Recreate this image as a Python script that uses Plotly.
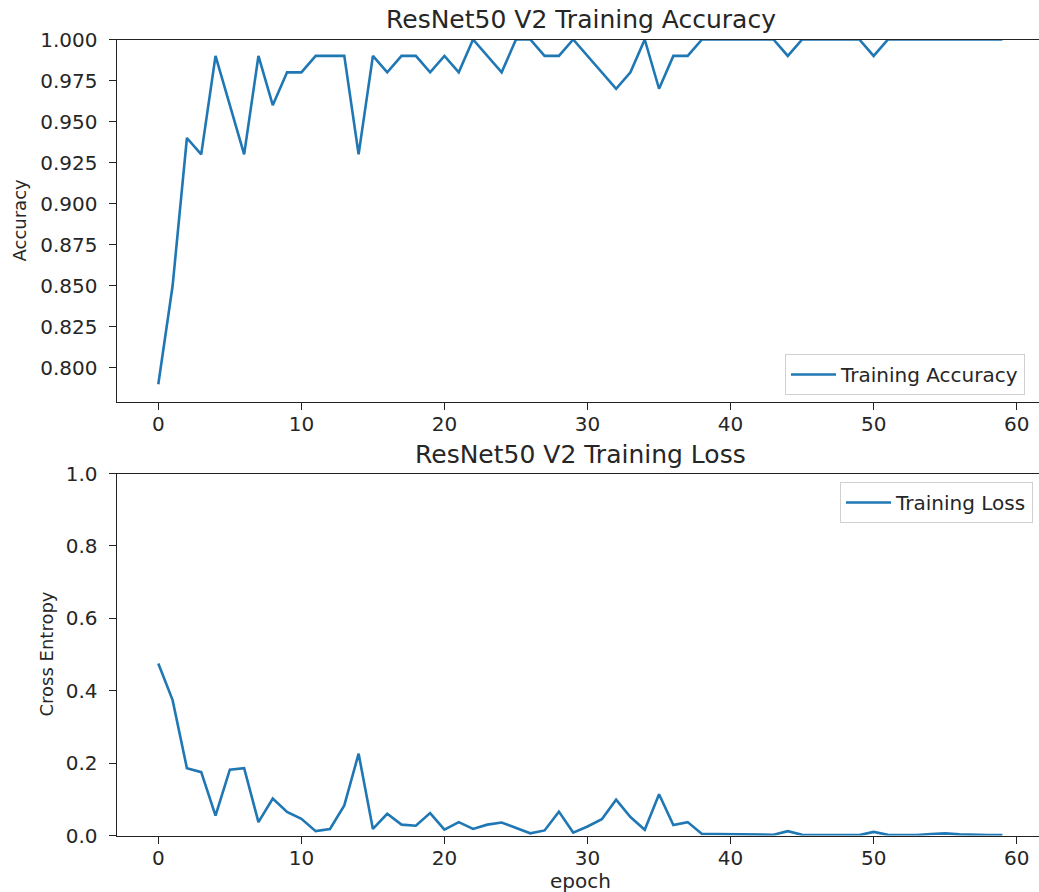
import plotly.graph_objects as go

epochs = list(range(60))

train_accuracy = [
    0.79, 0.85, 0.94, 0.93, 0.99, 0.96, 0.93, 0.99, 0.96, 0.98,
    0.98, 0.99, 0.99, 0.99, 0.93, 0.99, 0.98, 0.99, 0.99, 0.98,
    0.99, 0.98, 1.00, 0.99, 0.98, 1.00, 1.00, 0.99, 0.99, 1.00,
    0.99, 0.98, 0.97, 0.98, 1.00, 0.97, 0.99, 0.99, 1.00, 1.00,
    1.00, 1.00, 1.00, 1.00, 0.99, 1.00, 1.00, 1.00, 1.00, 1.00,
    0.99, 1.00, 1.00, 1.00, 1.00, 1.00, 1.00, 1.00, 1.00, 1.00,
]

train_loss = [
    0.475, 0.374, 0.186, 0.175, 0.055, 0.182, 0.186, 0.037, 0.102, 0.065,
    0.046, 0.012, 0.018, 0.083, 0.226, 0.018, 0.060, 0.030, 0.027, 0.062,
    0.016, 0.037, 0.018, 0.030, 0.036, 0.020, 0.006, 0.014, 0.066, 0.008,
    0.025, 0.045, 0.099, 0.051, 0.016, 0.114, 0.029, 0.037, 0.004, 0.004,
    0.003, 0.002, 0.002, 0.002, 0.012, 0.002, 0.001, 0.001, 0.001, 0.001,
    0.010, 0.002, 0.001, 0.001, 0.004, 0.006, 0.003, 0.001, 0.001, 0.001,
]

x_ticks = [0, 10, 20, 30, 40, 50, 60]
acc_ticks = [0.800, 0.825, 0.850, 0.875, 0.900, 0.925, 0.950, 0.975, 1.000]
loss_ticks = [0.0, 0.2, 0.4, 0.6, 0.8, 1.0]

W, H = 1039, 892
FONT = "DejaVu Sans"
TXT = "#262626"
BLUE = "#1f77b4"

fig = go.Figure()
fig.add_trace(go.Scatter(x=epochs, y=train_accuracy, mode="lines",
                         name="Training Accuracy", line=dict(color=BLUE, width=2.6),
                         xaxis="x", yaxis="y", legend="legend"))
fig.add_trace(go.Scatter(x=epochs, y=train_loss, mode="lines",
                         name="Training Loss", line=dict(color=BLUE, width=2.6),
                         xaxis="x2", yaxis="y2", legend="legend2"))

xl, xr = 116.7, W
x_dom = [xl / W, 1.0]
ppu = 14.307
x0px = 158.3
x_range = [(xl - x0px) / ppu, (xr - x0px) / ppu]

top_dom = [1 - 401.5 / H, 1 - 39.5 / H]
bot_dom = [1 - 835.5 / H, 1 - 473.5 / H]

axis_common = dict(showline=True, linecolor="#222222", linewidth=1.4,
                   ticks="outside", ticklen=7, tickwidth=1.4, tickcolor="#222222",
                   showgrid=False, zeroline=False, automargin=False,
                   tickfont=dict(family=FONT, size=20, color=TXT))

legend_common = dict(bgcolor="rgba(255,255,255,0.8)", bordercolor="#d0d0d0",
                     borderwidth=1, font=dict(family=FONT, size=20, color=TXT),
                     itemwidth=45, tracegroupgap=0)

fig.update_layout(
    width=W, height=H,
    margin=dict(l=0, r=0, t=0, b=0),
    paper_bgcolor="white", plot_bgcolor="white",
    font=dict(family=FONT, color=TXT),
    xaxis=dict(domain=x_dom, range=x_range, tickvals=x_ticks, anchor="y",
               mirror=True, ticklabelstandoff=-3, **axis_common),
    yaxis=dict(domain=top_dom, range=[0.7795, 1.0], tickvals=acc_ticks,
               tickformat=".3f", anchor="x", ticklabelstandoff=7, **axis_common),
    xaxis2=dict(domain=x_dom, range=x_range, tickvals=x_ticks, anchor="y2",
                mirror=True, ticklabelstandoff=-3, **axis_common),
    yaxis2=dict(domain=bot_dom, range=[0.0, 1.0], tickvals=loss_ticks,
                tickformat=".1f", anchor="x2", ticklabelstandoff=7, **axis_common),
    legend=dict(x=1025 / W, y=1 - 395 / H, xanchor="right", yanchor="bottom",
                **legend_common),
    legend2=dict(x=1033 / W, y=1 - 482 / H, xanchor="right", yanchor="top",
                 **legend_common),
    showlegend=True,
)

cx = (116.7 + 1044.6) / 2 / W
annos = [
    dict(text="ResNet50 V2 Training Accuracy", x=cx, y=1 - 20 / H, size=25),
    dict(text="ResNet50 V2 Training Loss", x=cx, y=1 - 454 / H, size=25),
    dict(text="epoch", x=cx, y=1 - 881 / H, size=20),
    dict(text="Accuracy", x=19 / W, y=1 - 220.5 / H, size=18, angle=-90),
    dict(text="Cross Entropy", x=46 / W, y=1 - 654.5 / H, size=18, angle=-90),
]
for a in annos:
    fig.add_annotation(text=a["text"], x=a["x"], y=a["y"], xref="paper", yref="paper",
                       xanchor="center", yanchor="middle", showarrow=False,
                       textangle=a.get("angle", 0),
                       font=dict(family=FONT, size=a["size"], color=TXT))

fig.write_html("out.html", config={"displayModeBar": False},
               post_script="document.body.style.margin='0';document.body.style.overflow='hidden';")
